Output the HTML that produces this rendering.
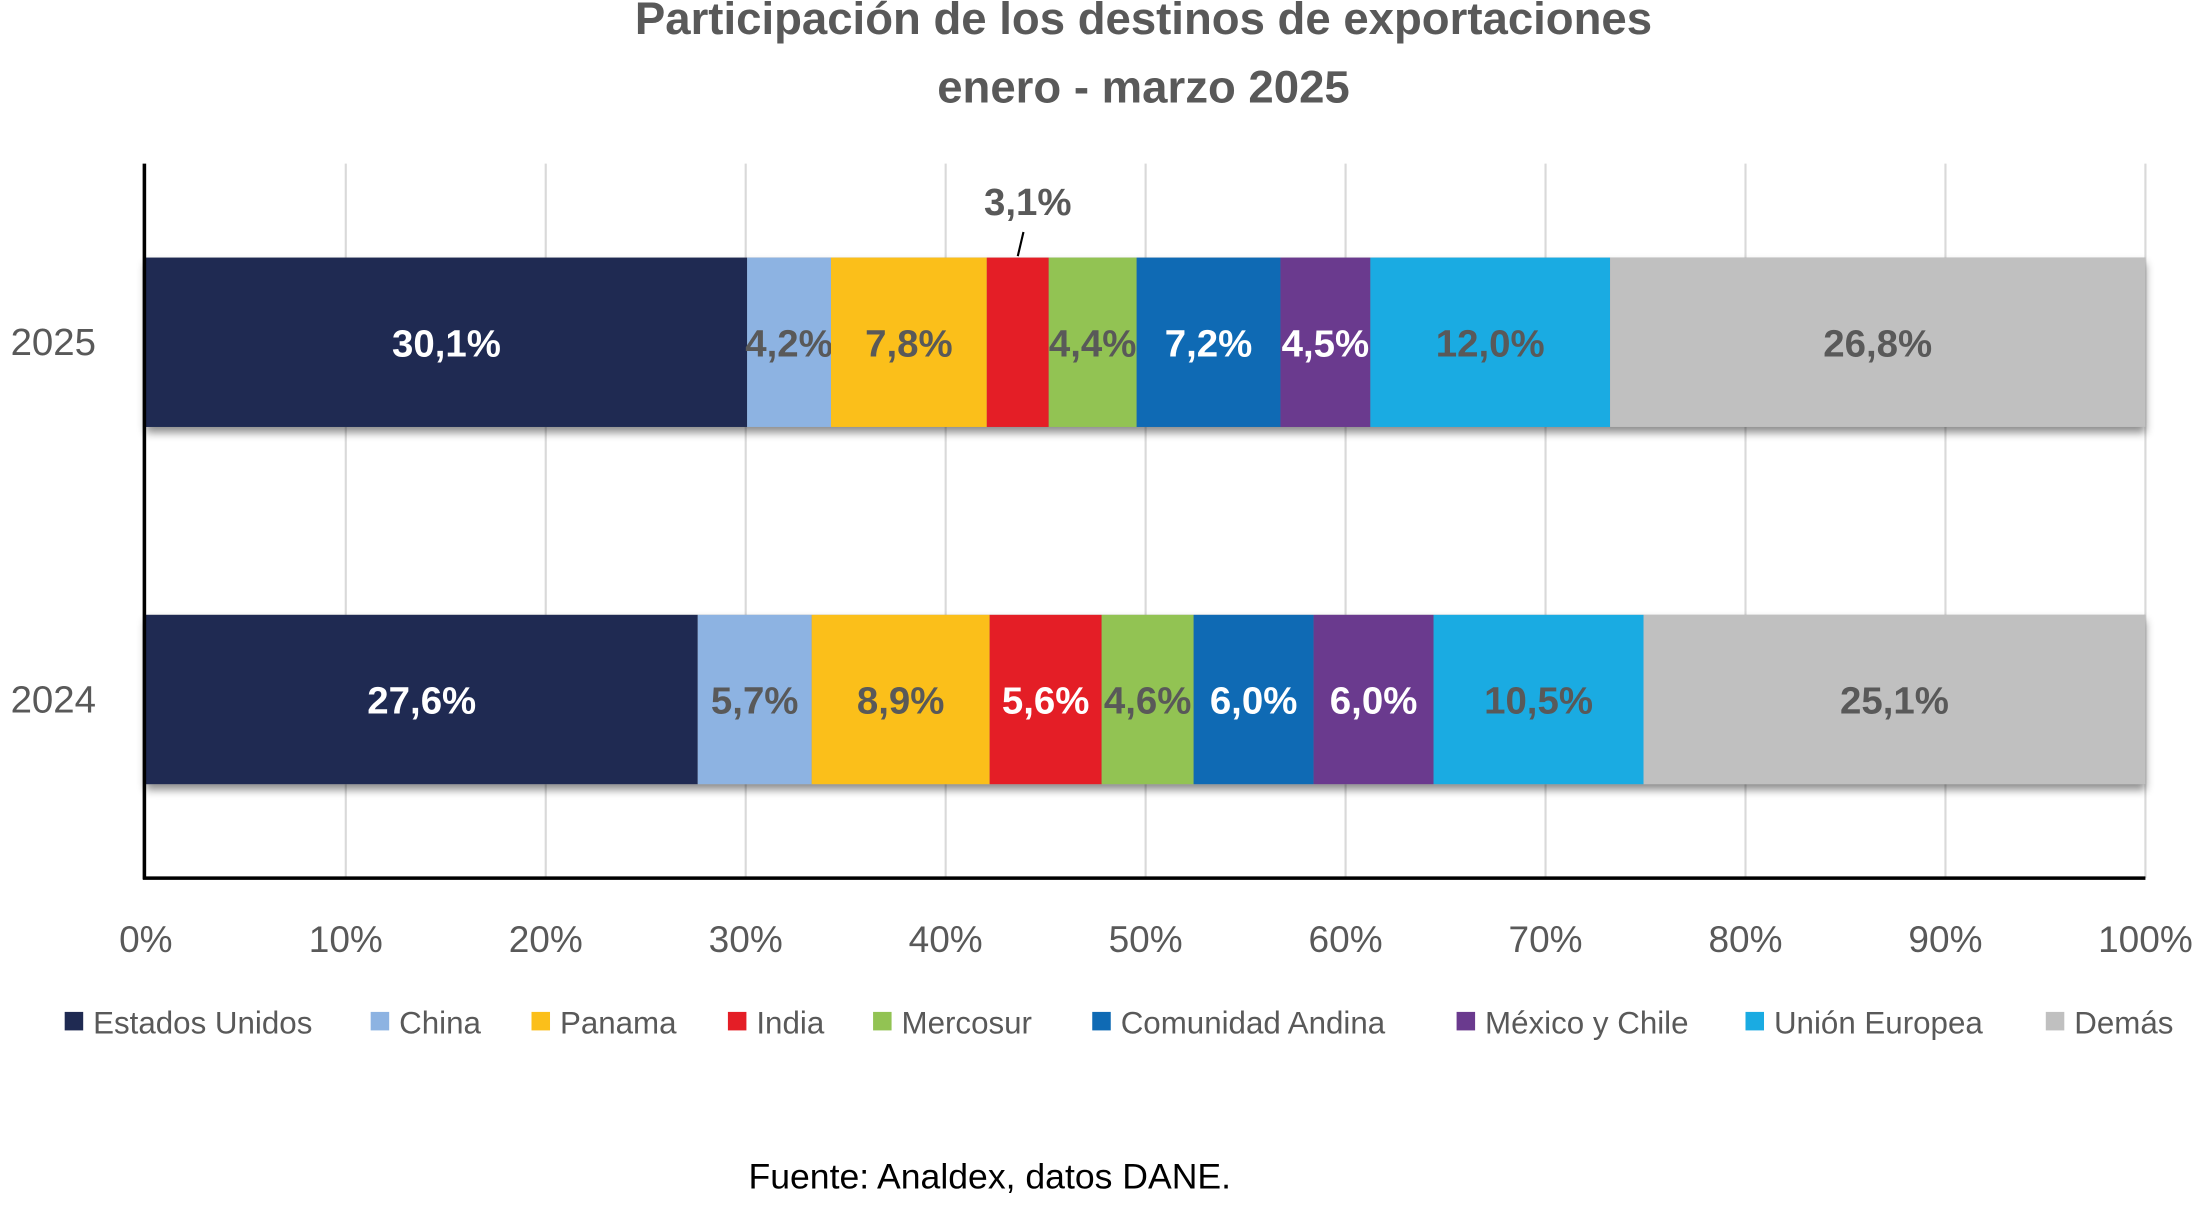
<!DOCTYPE html>
<html><head><meta charset="utf-8">
<style>
html,body{margin:0;padding:0;background:#fff;}
svg{display:block;font-family:"Liberation Sans",sans-serif;}
</style></head>
<body>
<svg id="chart" width="2203" height="1214" viewBox="0 0 1547 853" xmlns="http://www.w3.org/2000/svg">
<defs>
<filter id="sh" x="-5%" y="-20%" width="110%" height="150%"><feDropShadow dx="0" dy="4" stdDeviation="3" flood-color="#000" flood-opacity="0.45"/></filter>
</defs>
<text x="803" y="24" text-anchor="middle" font-size="32" font-weight="bold" fill="#595959">Participación de los destinos de exportaciones</text>
<text x="803" y="72" text-anchor="middle" font-size="32" font-weight="bold" fill="#595959">enero - marzo 2025</text>
<g id="grid"></g>
<g id="bars"></g>
<g id="axes"></g>
<g id="legend"></g>
<text x="695" y="835" text-anchor="middle" font-size="25" fill="#000">Fuente: Analdex, datos DANE.</text>
</svg>
<script>
const categories = ["Estados Unidos","China","Panama","India","Mercosur","Comunidad Andina","México y Chile","Unión Europea","Demás"];
const years = ["2025","2024"];
const values2025 = [30.1,4.2,7.8,3.1,4.4,7.2,4.5,12.0,26.8];
const values2024 = [27.6,5.7,8.9,5.6,4.6,6.0,6.0,10.5,25.1];
const labels2025 = ["30,1%","4,2%","7,8%","3,1%","4,4%","7,2%","4,5%","12,0%","26,8%"];
const labels2024 = ["27,6%","5,7%","8,9%","5,6%","4,6%","6,0%","6,0%","10,5%","25,1%"];
const xTicks = [0,10,20,30,40,50,60,70,80,90,100];

const colors = ["#1f2a52","#8db3e2","#fbbf1a","#e41e26","#92c353","#0f6ab4","#6a3a8e","#1aabe2","#c0c0c0"];
const labelColors = ["#fff","#595959","#595959","#fff","#595959","#fff","#fff","#595959","#595959"];
const NS="http://www.w3.org/2000/svg";
const X0=102,X1=1507, plotTop=115, plotBottom=617;
const x = v => X0 + (X1-X0)*v/100;
const rowY = {"2025":181,"2024":432}; const barH=119;
function el(tag, attrs, parent){const e=document.createElementNS(NS,tag);for(const k in attrs)e.setAttribute(k,attrs[k]);parent.appendChild(e);return e;}
const grid=document.getElementById('grid'), bars=document.getElementById('bars'), axes=document.getElementById('axes'), legend=document.getElementById('legend');

xTicks.forEach(t=>{
  if(t>0){const g=el('line',{x1:x(t),x2:x(t),y1:plotTop,y2:plotBottom,stroke:'#d9d9d9','stroke-width':1.5},grid);
  
  }
  const tl=el('text',{x:x(t),y:669,'text-anchor':'middle','font-size':26,fill:'#595959'},axes);
  tl.textContent=t+'%';
  
  
});
const ax=el('line',{x1:101,x2:101,y1:plotTop,y2:plotBottom+1,stroke:'#000','stroke-width':2.5},axes);


const bx=el('line',{x1:100,x2:X1,y1:plotBottom,y2:plotBottom,stroke:'#000','stroke-width':2.5},axes);



[[years[0],values2025,labels2025],[years[1],values2024,labels2024]].forEach(([yr,vals,labs])=>{
  const y=rowY[yr];
  const total=vals.reduce((a,b)=>a+b,0);
  const yl=el('text',{x:37,y:y+barH/2+9,'text-anchor':'middle','font-size':27,fill:'#595959'},axes);
  yl.textContent=yr;
  
  
  const shadow=el('rect',{x:x(0),y:y,width:x(100)-x(0),height:barH,fill:'#888',filter:'url(#sh)'},bars);
  
  
  let cum=0;
  vals.forEach((v,i)=>{
    const a=x(cum/total*100), b=x((cum+v)/total*100); cum+=v;
    const r=el('rect',{x:a,y:y,width:b-a,height:barH,fill:colors[i]},bars);
    
    
    const mid=(a+b)/2;
    let lx=mid, ly=y+barH/2+10, col=labelColors[i];
    if(yr==='2025' && i===3){
      lx=mid+7; ly=151; col='#595959';
      const ll=el('line',{x1:mid,y1:y-1,x2:mid+4,y2:163,stroke:'#000','stroke-width':1.5},bars);
      
      
    }
    const t=el('text',{x:lx,y:ly,'text-anchor':'middle','font-size':27,'font-weight':'bold',fill:col},bars);
    t.textContent=labs[i];
    
    
  });
});

const legendX=[45,260,373,511,613,767,1023,1226,1437];
categories.forEach((c,i)=>{
  const s=el('rect',{x:legendX[i],y:711,width:13,height:13,fill:colors[i]},legend);
  
  
  const t=el('text',{x:legendX[i]+20,y:726,'font-size':22,fill:'#595959'},legend);
  t.textContent=c;
  
  
});
</script>
</body></html>
